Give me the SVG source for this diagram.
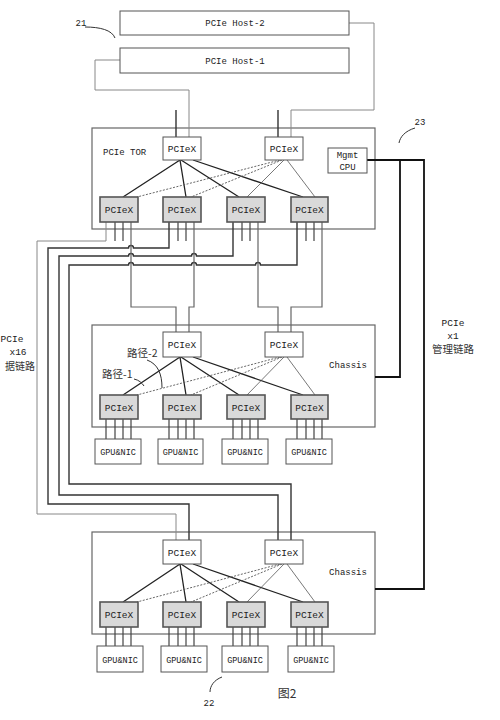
<svg xmlns="http://www.w3.org/2000/svg" width="500" height="720" viewBox="0 0 500 720">
<style>
.bg{fill:#fff}
.frame{fill:#fff;stroke:#666;stroke-width:1.2}
.box{fill:#fff;stroke:#555;stroke-width:1}
.sw{fill:#d9d9d9;stroke:#555;stroke-width:1.6}
.t{font-family:"Liberation Mono","Noto Sans CJK SC",monospace;fill:#222;text-anchor:middle;font-size:9.5px}
.s{font-size:9px}
.cjk{font-family:"Noto Sans CJK SC","Liberation Serif",sans-serif;fill:#333;font-size:10.5px}
.w{fill:none;stroke:#333;stroke-width:1.4}
.wg{fill:none;stroke:#888;stroke-width:1}
.wm{fill:none;stroke:#666;stroke-width:1.2}
.mg{fill:none;stroke:#111;stroke-width:1.8}
.ms{fill:none;stroke:#222;stroke-width:1.3}
.md{fill:none;stroke:#555;stroke-width:0.9;stroke-dasharray:2,1.5}
.mt{fill:none;stroke:#555;stroke-width:0.8}
.pin{fill:none;stroke:#444;stroke-width:1.2}
.lead{fill:none;stroke:#333;stroke-width:1}
</style>
<rect class="bg" x="0" y="0" width="500" height="720"/>

<!-- frames -->
<g id="tor-frame"><rect class="frame" x="92" y="128" width="283" height="101"/><text class="t s" x="103" y="155" style="text-anchor:start">PCIe TOR</text></g>
<g id="chassis1-frame"><rect class="frame" x="92" y="325" width="283" height="102"/><text class="t s" x="348" y="368">Chassis</text></g>
<g id="chassis2-frame"><rect class="frame" x="92" y="532" width="283" height="102"/><text class="t s" x="348" y="575">Chassis</text></g>

<g id="connectors">
  <!-- host links -->
  <path class="wg" d="M120,60 H95 V90 H189 V137"/>
  <path class="wg" d="M349,23 H374 V110 H291 V137"/>
  <path class="w" d="M176,110 V137"/>
  <path class="w" d="M278,110 V137"/>
  <!-- TOR mesh -->
  <path class="ms" d="M180,160 L123,197 M180,160 L186,197 M181,160 L239,197 M193,160 L303,197"/>
  <path class="md" d="M280,160 L137,197 M282,160 L191,197"/>
  <path class="mt" d="M284,160 L247,197 M287,160 L315,197"/>
  <!-- chassis1 mesh -->
  <path class="ms" d="M180,357 L123,395 M180,357 L186,395 M181,357 L239,395 M193,357 L303,395"/>
  <path class="md" d="M280,357 L137,395 M282,357 L191,395"/>
  <path class="mt" d="M284,357 L247,395 M287,357 L315,395"/>
  <!-- chassis2 mesh -->
  <path class="ms" d="M180,564 L123,602 M180,564 L186,602 M181,564 L239,602 M193,564 L303,602"/>
  <path class="md" d="M280,564 L137,602 M282,564 L191,602"/>
  <path class="mt" d="M284,564 L247,602 M287,564 L315,602"/>
  <!-- TOR pins 2,3 -->
  <path class="pin" d="M115,222 V241 M123,222 V241 M178,222 V241 M186,222 V241 M242,222 V241 M250,222 V241 M306,222 V241 M314,222 V241"/>
  <!-- x16 links to chassis2 -->
  <path class="wg" d="M106,222 V241 H37 V514 H176 V540"/>
  <path class="w" d="M169,222 V248 H133.5 A2.5,2.5 0 0 0 128.5,248 H48 V504 H189 V540"/>
  <path class="w" d="M233,222 V256 H196.5 A2.5,2.5 0 0 0 191.5,256 H133.5 A2.5,2.5 0 0 0 128.5,256 H59 V495 H278 V540"/>
  <path class="w" d="M297,222 V265 H260.5 A2.5,2.5 0 0 0 255.5,265 H196.5 A2.5,2.5 0 0 0 191.5,265 H133.5 A2.5,2.5 0 0 0 128.5,265 H69 V484 H291 V540"/>
  <!-- links to chassis1 -->
  <path class="wm" d="M131,222 V307 H176 V332"/>
  <path class="wm" d="M194,222 V307 H189 V332"/>
  <path class="wm" d="M258,222 V307 H278 V332"/>
  <path class="wm" d="M322,222 V307 H291 V332"/>
  <!-- chassis1 GPU pins -->
  <path class="pin" d="M106,419 V439 M115,419 V439 M123,419 V439 M131,419 V439 M169,419 V439 M178,419 V439 M186,419 V439 M194,419 V439 M233,419 V439 M242,419 V439 M250,419 V439 M258,419 V439 M297,419 V439 M306,419 V439 M314,419 V439 M322,419 V439"/>
  <!-- chassis2 GPU pins -->
  <path class="pin" d="M106,627 V646 M115,627 V646 M123,627 V646 M131,627 V646 M169,627 V646 M178,627 V646 M186,627 V646 M194,627 V646 M233,627 V646 M242,627 V646 M250,627 V646 M258,627 V646 M297,627 V646 M306,627 V646 M314,627 V646 M322,627 V646"/>
  <!-- management links -->
  <path class="mg" d="M367,160 H424 V589 H375"/>
  <path class="mg" d="M400,160 V377 H375"/>
  <!-- leaders -->
  <path class="lead" d="M85,27 C100,27 112,30 115,38"/>
  <path class="lead" d="M415,128 C405,131 400,137 399,143"/>
  <path class="lead" d="M222,677 C214,680 210,686 210,692"/>
  <path class="lead" d="M147,360 C158,364 162,374 162,388"/>
  <path class="lead" d="M134,379 C139,380 142,383 144,386"/>
</g>

<!-- hosts -->
<g id="host2"><rect class="box" x="120" y="11" width="229" height="24"/><text class="t s" x="235" y="26">PCIe Host-2</text></g>
<g id="host1"><rect class="box" x="120" y="48" width="229" height="25"/><text class="t s" x="235" y="64">PCIe Host-1</text></g>

<!-- TOR -->
<g id="tor-up1"><rect class="box" x="163" y="137" width="38" height="23"/><text class="t" x="182" y="152">PCIeX</text></g>
<g id="tor-up2"><rect class="box" x="265" y="137" width="38" height="23"/><text class="t" x="284" y="152">PCIeX</text></g>
<g id="tor-mgmt"><rect class="box" x="328" y="148" width="39" height="25"/><text class="t s" x="347.5" y="158">Mgmt</text><text class="t s" x="347.5" y="170">CPU</text></g>
<g id="tor-sw1"><rect class="sw" x="100" y="197" width="38" height="25"/><text class="t" x="119" y="213">PCIeX</text></g>
<g id="tor-sw2"><rect class="sw" x="163" y="197" width="38" height="25"/><text class="t" x="182" y="213">PCIeX</text></g>
<g id="tor-sw3"><rect class="sw" x="227" y="197" width="38" height="25"/><text class="t" x="246" y="213">PCIeX</text></g>
<g id="tor-sw4"><rect class="sw" x="291" y="197" width="37" height="25"/><text class="t" x="309.5" y="213">PCIeX</text></g>

<!-- chassis 1 -->
<g id="c1-up1"><rect class="box" x="163" y="332" width="38" height="25"/><text class="t" x="182" y="348">PCIeX</text></g>
<g id="c1-up2"><rect class="box" x="265" y="332" width="38" height="25"/><text class="t" x="284" y="348">PCIeX</text></g>
<g id="c1-sw1"><rect class="sw" x="100" y="395" width="38" height="24"/><text class="t" x="119" y="411">PCIeX</text></g>
<g id="c1-sw2"><rect class="sw" x="163" y="395" width="38" height="24"/><text class="t" x="182" y="411">PCIeX</text></g>
<g id="c1-sw3"><rect class="sw" x="227" y="395" width="38" height="24"/><text class="t" x="246" y="411">PCIeX</text></g>
<g id="c1-sw4"><rect class="sw" x="291" y="395" width="37" height="24"/><text class="t" x="309.5" y="411">PCIeX</text></g>
<g id="c1-gpu1"><rect class="box" x="95" y="439" width="46" height="25"/><text class="t s" x="118" y="455" style="font-size:8.5px">GPU&amp;NIC</text></g>
<g id="c1-gpu2"><rect class="box" x="158" y="439" width="45" height="25"/><text class="t s" x="180.5" y="455" style="font-size:8.5px">GPU&amp;NIC</text></g>
<g id="c1-gpu3"><rect class="box" x="222" y="439" width="46" height="25"/><text class="t s" x="245" y="455" style="font-size:8.5px">GPU&amp;NIC</text></g>
<g id="c1-gpu4"><rect class="box" x="286" y="439" width="46" height="25"/><text class="t s" x="309" y="455" style="font-size:8.5px">GPU&amp;NIC</text></g>
<g id="c1-labels"><text class="cjk" x="127" y="357">路径-2</text><text class="cjk" x="102" y="378">路径-1</text></g>

<!-- chassis 2 -->
<g id="c2-up1"><rect class="box" x="163" y="540" width="38" height="24"/><text class="t" x="182" y="556">PCIeX</text></g>
<g id="c2-up2"><rect class="box" x="265" y="540" width="38" height="24"/><text class="t" x="284" y="556">PCIeX</text></g>
<g id="c2-sw1"><rect class="sw" x="100" y="602" width="38" height="25"/><text class="t" x="119" y="618">PCIeX</text></g>
<g id="c2-sw2"><rect class="sw" x="163" y="602" width="38" height="25"/><text class="t" x="182" y="618">PCIeX</text></g>
<g id="c2-sw3"><rect class="sw" x="227" y="602" width="38" height="25"/><text class="t" x="246" y="618">PCIeX</text></g>
<g id="c2-sw4"><rect class="sw" x="291" y="602" width="37" height="25"/><text class="t" x="309.5" y="618">PCIeX</text></g>
<g id="c2-gpu1"><rect class="box" x="97" y="646" width="46" height="26"/><text class="t s" x="120" y="663" style="font-size:8.5px">GPU&amp;NIC</text></g>
<g id="c2-gpu2"><rect class="box" x="161" y="646" width="46" height="26"/><text class="t s" x="184" y="663" style="font-size:8.5px">GPU&amp;NIC</text></g>
<g id="c2-gpu3"><rect class="box" x="222" y="646" width="46" height="26"/><text class="t s" x="245" y="663" style="font-size:8.5px">GPU&amp;NIC</text></g>
<g id="c2-gpu4"><rect class="box" x="288" y="646" width="46" height="26"/><text class="t s" x="311" y="663" style="font-size:8.5px">GPU&amp;NIC</text></g>

<!-- annotations -->
<g id="labels">
  <text class="t s" x="81" y="26">21</text>
  <text class="t s" x="420" y="125">23</text>
  <text class="t s" x="209" y="706">22</text>
  <text class="cjk" x="287" y="698" style="text-anchor:middle;font-size:12px">图2</text>
  <text class="t" x="453" y="326">PCIe</text>
  <text class="t" x="453" y="339">x1</text>
  <text class="cjk" x="453" y="353" style="text-anchor:middle">管理链路</text>
  <text class="t" x="12" y="342">PCIe</text>
  <text class="t" x="18" y="355">x16</text>
  <text class="cjk" x="20" y="370" style="text-anchor:middle;font-size:10px">据链路</text>
</g>
</svg>
